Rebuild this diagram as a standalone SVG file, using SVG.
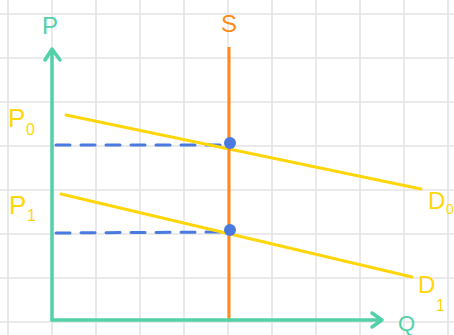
<svg xmlns="http://www.w3.org/2000/svg" width="454" height="335" viewBox="0 0 454 335">
<style>
.grid line{stroke:#e3e3e3;stroke-width:1.5}
.axis{stroke:#52d1a8;stroke-width:3.5;fill:none;stroke-linecap:round;stroke-linejoin:round}
.dem{stroke:#ffd60a;stroke-width:3;stroke-linecap:round}
.dash{stroke:#4a7ae0;stroke-width:3;stroke-dasharray:14 11;stroke-linecap:round;fill:none}
.lbl{font-family:"Liberation Sans",Arial,sans-serif}
.y{fill:#ffd60a}
</style>
<rect width="454" height="335" fill="#ffffff"/>
<g class="grid">
<line x1="8" y1="0" x2="8" y2="335"/><line x1="52" y1="0" x2="52" y2="335"/><line x1="96" y1="0" x2="96" y2="335"/><line x1="140" y1="0" x2="140" y2="335"/><line x1="184" y1="0" x2="184" y2="335"/><line x1="228" y1="0" x2="228" y2="335"/><line x1="272" y1="0" x2="272" y2="335"/><line x1="316" y1="0" x2="316" y2="335"/><line x1="360" y1="0" x2="360" y2="335"/><line x1="404" y1="0" x2="404" y2="335"/><line x1="448" y1="0" x2="448" y2="335"/>
<line x1="0" y1="14" x2="454" y2="14"/><line x1="0" y1="58" x2="454" y2="58"/><line x1="0" y1="102" x2="454" y2="102"/><line x1="0" y1="146" x2="454" y2="146"/><line x1="0" y1="190" x2="454" y2="190"/><line x1="0" y1="234" x2="454" y2="234"/><line x1="0" y1="278" x2="454" y2="278"/><line x1="0" y1="322" x2="454" y2="322"/>
</g>
<g id="connectors">
<path class="dash" d="M56 145 L226 145"/>
<path class="dash" d="M56 233 L226 232"/>
<line class="dem" x1="66" y1="115" x2="421" y2="189"/>
<line class="dem" x1="61" y1="194" x2="412" y2="277"/>
<line x1="229" y1="47" x2="229" y2="322" stroke="#ff8a1a" stroke-width="3"/>
<path class="axis" d="M52 320 L52 50 M45 60 L52 49 L60 60"/>
<path class="axis" d="M52 320 L381 320 M372 313 L382 320 L372 327"/>
<circle cx="230" cy="143" r="6" fill="#4a7ae0"/>
<circle cx="230" cy="230" r="6" fill="#4a7ae0"/>
</g>
<g id="labels" class="lbl">
<text x="50" y="34" font-size="24" fill="#52d1a8" text-anchor="middle">P</text>
<text x="229" y="32" font-size="24" fill="#ff8a1a" text-anchor="middle">S</text>
<text x="8" y="127" font-size="26" class="y">P</text><text x="26" y="135" font-size="16" class="y">0</text>
<text x="9" y="214" font-size="26" class="y">P</text><text x="27" y="221" font-size="16" class="y">1</text>
<text x="428" y="209" font-size="24" class="y">D</text><text x="446" y="214" font-size="14" class="y">0</text>
<text x="418" y="293" font-size="24" class="y">D</text><text x="436" y="311" font-size="16" class="y">1</text>
<text x="398" y="331" font-size="22" fill="#52d1a8">Q</text>
</g>
</svg>
